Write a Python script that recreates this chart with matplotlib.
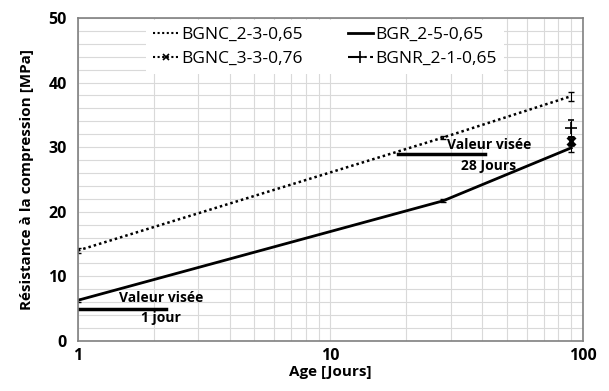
import numpy as np
import matplotlib
matplotlib.use('Agg')
import matplotlib.pyplot as plt
from matplotlib.lines import Line2D
from matplotlib.ticker import LogLocator, MultipleLocator, FixedLocator

plt.rcParams['font.family'] = ['Open Sans', 'DejaVu Sans']

# Data
age_bgnc23 = [1, 28, 90]
res_bgnc23 = [14.0, 31.5, 37.9]
err_bgnc23 = [0.4, 0.2, 0.7]

age_bgr25 = [1, 28, 90]
res_bgr25 = [6.3, 21.7, 29.9]
err_bgr25 = [0.2, 0.2, 0.6]

age_bgnc33 = [90]
res_bgnc33 = [31.0]
err_bgnc33 = [0.6]

age_bgnr21 = [90]
res_bgnr21 = [32.9]
err_bgnr21 = [1.3]

target_1j_x = [1, 2.23]
target_1j_y = [5, 5]
target_28j_x = [18.6, 41]
target_28j_y = [29, 29]

fig = plt.figure(figsize=(6.09, 3.91), dpi=100)
ax = fig.add_axes([0.128, 0.128, 0.829, 0.826])

dotted = (0, (1, 1.2))
ax.errorbar(age_bgnc23, res_bgnc23, yerr=err_bgnc23, color='black', lw=1.8,
            ls=dotted, capsize=2, elinewidth=0.8)
ax.errorbar(age_bgr25, res_bgr25, yerr=err_bgr25, color='black', lw=2,
            ls='-', capsize=2, elinewidth=0.8)
ax.errorbar(age_bgnc33, res_bgnc33, yerr=err_bgnc33, color='black', lw=1.5,
            ls=dotted, marker='x', ms=6, mew=2, capsize=2, elinewidth=0.8,
            zorder=4)
ax.errorbar(age_bgnr21, res_bgnr21, yerr=err_bgnr21, color='black', lw=1.5,
            ls='-.', marker='+', ms=9, mew=1.2, capsize=2.5, elinewidth=0.8)

ax.plot(target_1j_x, target_1j_y, color='black', lw=2.5)
ax.plot(target_28j_x, target_28j_y, color='black', lw=2.5)

ax.text(2.13, 6.7, 'Valeur visée', ha='center', va='center', fontsize=10, fontweight='bold')
ax.text(2.13, 3.6, '1 jour', ha='center', va='center', fontsize=10, fontweight='bold')
ax.text(42.5, 30.3, 'Valeur visée', ha='center', va='center', fontsize=10, fontweight='bold')
ax.text(42.5, 27.1, '28 Jours', ha='center', va='center', fontsize=10, fontweight='bold')

ax.set_xscale('log')
ax.set_xlim(1, 100)
ax.set_ylim(0, 50)
ax.xaxis.set_major_locator(FixedLocator([1, 10, 100]))
ax.set_xticklabels(['1', '10', '100'])
ax.xaxis.set_minor_locator(LogLocator(base=10, subs=np.arange(2, 10)))
ax.xaxis.set_minor_formatter(plt.NullFormatter())
ax.yaxis.set_major_locator(MultipleLocator(10))
ax.yaxis.set_minor_locator(MultipleLocator(2))
ax.grid(True, which='both', color='#d9d9d9', lw=0.8)
ax.set_axisbelow(True)
ax.tick_params(which='both', length=0)
ax.tick_params(axis='x', pad=5)
ax.tick_params(axis='y', pad=8)
for lbl in ax.get_xticklabels() + ax.get_yticklabels():
    lbl.set_fontweight('bold')
    lbl.set_fontsize(11.5)
for sp in ax.spines.values():
    sp.set_color('#808080')
    sp.set_linewidth(1.2)

ax.set_xlabel('Age [Jours]', fontsize=11, fontweight='bold', labelpad=1)
ax.set_ylabel('Résistance à la compression [MPa]', fontsize=11, fontweight='bold',
              labelpad=10)

# legend: rows are (BGNC_2-3, BGR) and (BGNC_3-3, BGNR), matplotlib fills by column
h_bgnc23 = Line2D([], [], color='black', lw=1.5, ls=dotted)
h_bgr25 = Line2D([], [], color='black', lw=2)
h_bgnc33 = Line2D([], [], color='black', lw=1.5, ls=dotted, marker='x', ms=5, mew=1.2)
h_bgnr21 = Line2D([], [], color='black', lw=1.5, ls='-.', marker='+', ms=8, mew=1.2)
leg = ax.legend([h_bgnc23, h_bgnc33, h_bgr25, h_bgnr21],
                ['BGNC_2-3-0,65', 'BGNC_3-3-0,76', 'BGR_2-5-0,65', 'BGNR_2-1-0,65'],
                loc='upper left', bbox_to_anchor=(0.135, 0.995), ncol=2,
                frameon=True, fontsize=12.5, handlelength=1.45, handletextpad=0.15,
                columnspacing=2.6, borderaxespad=0.0, labelspacing=0.45,
                borderpad=0.4)
leg.get_frame().set_edgecolor('none')
leg.get_frame().set_facecolor('white')
leg.get_frame().set_alpha(1)
leg.get_frame().set_boxstyle('square', pad=0.0)

fig.savefig('out.png', dpi=100)
